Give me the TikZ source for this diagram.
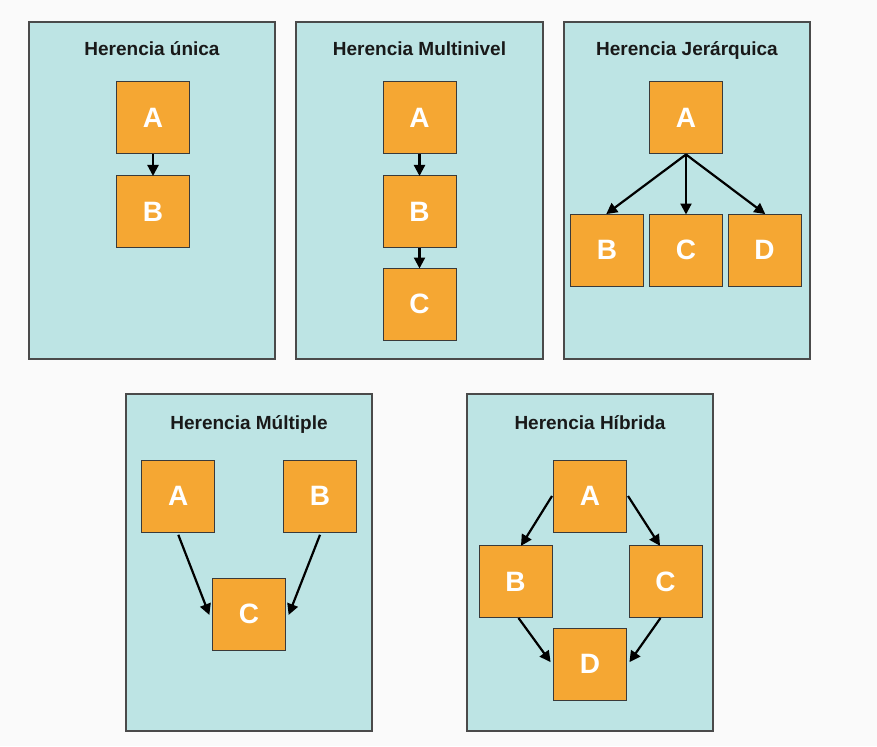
\documentclass[tikz,border=0pt]{standalone}
\usepackage{fontspec}
\setmainfont{Liberation Sans}
\usetikzlibrary{arrows.meta,calc}
\definecolor{bgc}{HTML}{FAFAFA}
\definecolor{panelc}{HTML}{BDE4E4}
\definecolor{panelb}{HTML}{4A4A4A}
\definecolor{boxc}{HTML}{F5A733}
\definecolor{boxb}{HTML}{3A3A3A}
\tikzset{
  panel/.style={draw=panelb,fill=panelc,line width=1.2pt},
  ptitle/.style={font=\fontsize{19}{22}\selectfont\bfseries,text=black!90,inner sep=0pt,anchor=base},
  cls/.style={draw=boxb,fill=boxc,line width=1pt,minimum width=73pt,minimum height=72pt,inner sep=0pt,
    font=\fontsize{28}{30}\selectfont\bfseries,text=white},
  inh/.style={-{Triangle[length=11pt,width=11pt]},line width=2.2pt,black,shorten >=-1pt}
}
\begin{document}
\begin{tikzpicture}[x=1pt,y=-1pt]
\useasboundingbox (0,0) rectangle (877,746);
\fill[bgc] (0,0) rectangle (877,746);
% Panel 1
\draw[panel] (29,22) rectangle (275,359);
\node[ptitle] (t1) at (152,56) {Herencia única};
\node[cls] (a1) at (153,118) {A};
\node[cls] (b1) at (153,211.5) {B};
\draw[inh] (a1.south) -- (b1.north);
% Panel 2
\draw[panel] (296,22) rectangle (543,359);
\node[ptitle] (t2) at (419.5,56) {Herencia Multinivel};
\node[cls] (a2) at (419.5,118) {A};
\node[cls] (b2) at (419.5,211.5) {B};
\node[cls] (c2) at (419.5,304) {C};
\draw[inh] (a2.south) -- (b2.north);
\draw[inh] (b2.south) -- (c2.north);
% Panel 3
\draw[panel] (564,22) rectangle (810,359);
\node[ptitle] (t3) at (687,56) {Herencia Jerárquica};
\node[cls] (a3) at (686,118) {A};
\node[cls] (b3) at (607,250) {B};
\node[cls] (c3) at (686,250) {C};
\node[cls] (d3) at (764.5,250) {D};
\draw[inh] (a3.south) -- (b3.north);
\draw[inh] (a3.south) -- (c3.north);
\draw[inh] (a3.south) -- (d3.north);
% Panel 4
\draw[panel] (126,394) rectangle (372,731);
\node[ptitle] (t4) at (249,429) {Herencia Múltiple};
\node[cls] (a4) at (178.3,496.3) {A};
\node[cls] (b4) at (320,496.3) {B};
\node[cls] (c4) at (249,614) {C};
\draw[inh] ([yshift=-2pt]a4.south) -- ([xshift=-3pt]c4.west);
\draw[inh] ([yshift=-2pt]b4.south) -- ([xshift=3pt]c4.east);
% Panel 5
\draw[panel] (467,394) rectangle (713,731);
\node[ptitle] (t5) at (590,429) {Herencia Híbrida};
\node[cls] (a5) at (590,496) {A};
\node[cls] (b5) at (515.5,581.5) {B};
\node[cls] (c5) at (665.5,581.5) {C};
\node[cls] (d5) at (590,664.3) {D};
\draw[inh] ([xshift=-1pt]a5.west) -- ([xshift=6pt]b5.north);
\draw[inh] ([xshift=1pt]a5.east) -- ([xshift=-6pt]c5.north);
\draw[inh] ([xshift=3pt]b5.south) -- ([xshift=-3pt,yshift=3pt]d5.west);
\draw[inh] ([xshift=-5pt]c5.south) -- ([xshift=3pt,yshift=3pt]d5.east);
\end{tikzpicture}
\end{document}
